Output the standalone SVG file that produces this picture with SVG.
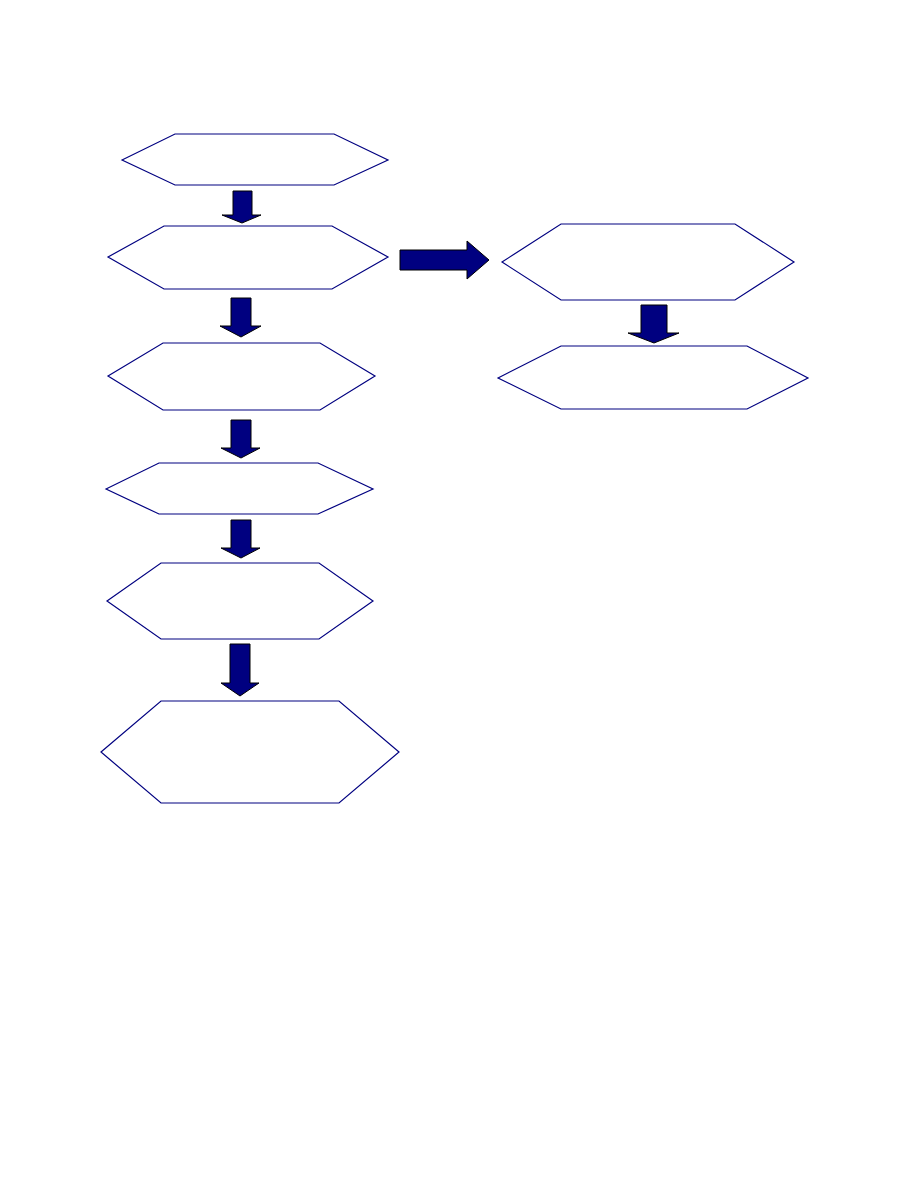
<svg xmlns="http://www.w3.org/2000/svg" width="918" height="1188" viewBox="0 0 918 1188">
<style>
.hex{fill:#ffffff;stroke:#000080;stroke-width:1.2}
.arr{fill:#000080;stroke:#000000;stroke-width:1}
</style>
<rect width="918" height="1188" fill="#ffffff"/>
<g id="node1"><polygon class="hex" points="122,160 175,134 334,134 388,160 334,185 175,185"/></g>
<g id="node2"><polygon class="hex" points="108,257 164,226 332,226 388,257 332,289 164,289"/></g>
<g id="node3"><polygon class="hex" points="108,376 163,343 320,343 375,376 320,410 163,410"/></g>
<g id="node4"><polygon class="hex" points="106,489 159,463 318,463 373,489 318,514 159,514"/></g>
<g id="node5"><polygon class="hex" points="107,601 161,563 319,563 373,601 319,639 161,639"/></g>
<g id="node6"><polygon class="hex" points="101,752 161,701 339,701 399,752 339,803 161,803"/></g>
<g id="node7"><polygon class="hex" points="502,262 561,224 735,224 794,262 735,300 561,300"/></g>
<g id="node8"><polygon class="hex" points="498,378 561,346 747,346 808,378 747,409 561,409"/></g>
<g id="connectors">
<polygon class="arr" points="233,191 252,191 252,215 261,215 242,223 222,215 233,215"/>
<polygon class="arr" points="231,298 251,298 251,326 261,326 241,337 220,326 231,326"/>
<polygon class="arr" points="231,420 251,420 251,448 260,448 241,458 221,448 231,448"/>
<polygon class="arr" points="231,520 251,520 251,548 260,548 241,558 221,548 231,548"/>
<polygon class="arr" points="230,644 250,644 250,683 259,683 240,696 221,683 230,683"/>
<polygon class="arr" points="400,250 467,250 467,241 489,260 467,279 467,270 400,270"/>
<polygon class="arr" points="641,305 667,305 667,333 679,333 654,343 628,333 641,333"/>
</g>
</svg>
